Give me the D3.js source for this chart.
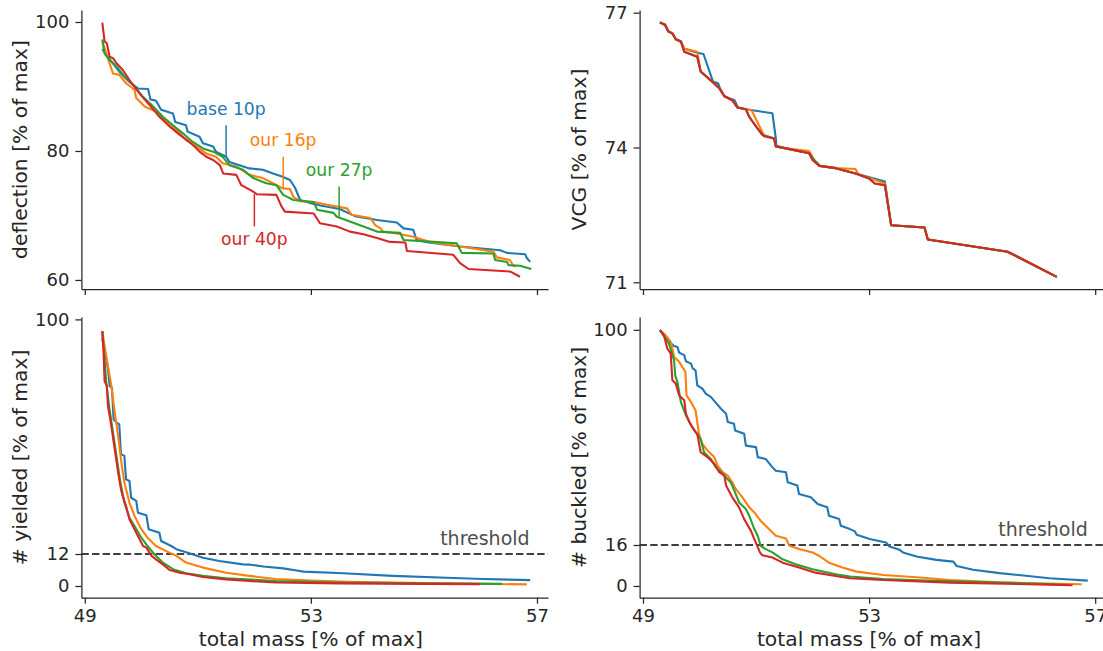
<!DOCTYPE html>
<html><head><meta charset="utf-8">
<script src="https://cdn.jsdelivr.net/npm/d3@7"></script>
<style>body{margin:0;background:#fff}svg{display:block}text{font-family:"DejaVu Sans",sans-serif}</style>
</head><body><svg id="c" width="1103" height="651"></svg>
<script>
const seriesNames = ["base 10p", "our 16p", "our 27p", "our 40p"];
const seriesColors = ["#1f77b4", "#ff7f0e", "#2ca02c", "#d62728"];
const massTicks = [49, 53, 57];
const deflectionTicks = [60, 80, 100];
const vcgTicks = [71, 74, 77];
const yieldedTicks = [0, 12, 100];
const buckledTicks = [0, 16, 100];
const yieldedThreshold = 12;
const buckledThreshold = 16;

// deflection [% of max] vs total mass [% of max]
const deflectionBase10p = [[49.31,95.8],[49.41,94.6],[49.61,92.3],[49.79,90.7],[49.94,89.7],[50.12,89.6],[50.16,88.0],[50.26,87.8],[50.35,86.4],[50.56,85.8],[50.60,84.5],[50.79,84.0],[50.82,83.0],[51.03,82.2],[51.09,81.2],[51.27,80.7],[51.32,79.9],[51.50,79.1],[51.56,78.3],[51.91,77.3],[52.15,77.1],[52.33,76.5],[52.50,76.0],[52.63,75.5],[52.72,74.3],[52.81,72.4],[53.00,71.9],[53.19,71.5],[53.51,71.0],[53.78,69.9],[54.17,69.3],[54.52,68.9],[54.64,68.0],[54.81,67.8],[54.87,66.2],[55.08,65.8],[55.64,65.2],[56.35,64.6],[56.47,64.2],[56.79,64.0],[56.82,63.4],[56.88,62.8]];
const deflectionOur16p = [[49.31,97.0],[49.40,94.6],[49.50,92.0],[49.61,91.8],[49.73,90.5],[49.88,89.5],[49.91,88.2],[50.06,86.9],[50.26,86.1],[50.41,84.8],[50.62,83.3],[50.79,81.7],[50.97,80.7],[51.15,79.6],[51.32,79.1],[51.44,78.1],[51.68,77.6],[51.91,76.3],[52.15,75.8],[52.33,75.0],[52.50,74.2],[52.63,74.1],[52.69,72.9],[52.81,72.2],[53.05,72.1],[53.34,71.6],[53.64,71.1],[53.72,70.1],[54.05,69.6],[54.14,68.5],[54.23,68.0],[54.28,67.5],[54.52,67.2],[54.81,66.7],[55.11,65.9],[55.64,65.2],[56.23,64.4],[56.29,63.5],[56.52,63.1],[56.58,62.2],[56.63,62.1]];
const deflectionOur27p = [[49.31,97.3],[49.35,95.1],[49.44,94.1],[49.56,93.1],[49.73,91.3],[49.88,90.0],[50.03,88.4],[50.21,86.9],[50.38,85.3],[50.56,84.0],[50.74,82.7],[50.91,81.4],[51.09,80.4],[51.27,79.9],[51.44,79.1],[51.56,77.8],[51.80,77.1],[51.98,75.8],[52.21,75.0],[52.39,74.7],[52.51,73.2],[52.69,72.4],[53.05,72.1],[53.11,70.9],[53.40,70.4],[53.46,69.8],[53.93,68.3],[54.17,67.5],[54.58,67.3],[54.64,66.2],[55.17,65.9],[55.58,65.7],[55.67,64.2],[56.23,64.1],[56.26,63.1],[56.47,62.8],[56.50,62.3],[56.70,62.2],[56.90,61.7]];
const deflectionOur40p = [[49.31,99.9],[49.35,97.0],[49.39,96.7],[49.44,94.6],[49.50,94.4],[49.56,93.6],[49.67,92.6],[49.79,91.0],[49.97,88.9],[50.15,87.1],[50.32,85.3],[50.50,83.8],[50.68,82.5],[50.85,81.4],[50.94,80.7],[51.03,79.9],[51.15,79.1],[51.27,78.6],[51.39,77.8],[51.45,76.5],[51.68,76.3],[51.77,74.7],[51.98,73.7],[52.04,73.3],[52.39,73.2],[52.48,71.4],[52.54,70.6],[53.05,70.3],[53.16,68.8],[53.46,68.3],[53.69,67.5],[53.93,67.1],[54.17,66.5],[54.40,65.9],[54.67,65.8],[54.70,64.5],[55.52,63.9],[55.64,62.6],[55.79,61.7],[56.53,61.3],[56.70,60.5]];

// VCG [% of max]
const vcgBase10p = [[49.30,76.78],[49.39,76.73],[49.45,76.58],[49.52,76.54],[49.58,76.41],[49.67,76.36],[49.73,76.20],[49.96,76.11],[50.07,76.08],[50.24,75.46],[50.33,75.43],[50.36,75.32],[50.44,75.14],[50.62,75.05],[50.68,74.89],[50.82,74.85],[51.29,74.76],[51.35,74.20],[51.36,74.04],[51.53,73.98],[51.94,73.87],[52.00,73.72],[52.12,73.59],[52.41,73.54],[52.76,73.42],[52.83,73.40],[53.28,73.24],[53.39,72.27],[53.98,72.22],[54.04,71.95],[55.45,71.68],[56.32,71.12]];
const vcgOur16p = [[49.30,76.78],[49.39,76.73],[49.45,76.58],[49.52,76.54],[49.58,76.41],[49.67,76.36],[49.73,76.20],[49.96,76.13],[50.02,75.69],[50.23,75.46],[50.35,75.32],[50.44,75.14],[50.58,75.05],[50.67,74.89],[50.82,74.85],[50.92,74.83],[51.05,74.50],[51.14,74.27],[51.32,74.20],[51.35,74.02],[51.53,73.98],[51.94,73.92],[52.05,73.68],[52.12,73.59],[52.41,73.54],[52.76,73.52],[52.80,73.42],[52.83,73.40],[53.28,73.20],[53.39,72.27],[53.98,72.22],[54.04,71.95],[55.45,71.68],[56.32,71.12]];
const vcgOur27p = [[49.30,76.78],[49.39,76.73],[49.45,76.58],[49.52,76.54],[49.58,76.41],[49.67,76.36],[49.73,76.13],[49.96,76.02],[50.02,75.69],[50.23,75.46],[50.35,75.32],[50.44,75.14],[50.58,75.05],[50.67,74.89],[50.82,74.85],[50.88,74.68],[51.10,74.29],[51.32,74.20],[51.35,74.02],[51.53,73.98],[51.94,73.87],[52.03,73.72],[52.14,73.59],[52.41,73.54],[52.76,73.42],[53.00,73.31],[53.10,73.20],[53.28,73.16],[53.39,72.27],[53.98,72.22],[54.04,71.95],[55.45,71.68],[56.32,71.12]];
const vcgOur40p = [[49.30,76.78],[49.39,76.73],[49.45,76.58],[49.52,76.54],[49.58,76.41],[49.67,76.36],[49.73,76.13],[49.96,76.02],[50.02,75.69],[50.23,75.46],[50.35,75.32],[50.44,75.14],[50.58,75.05],[50.67,74.89],[50.82,74.85],[50.88,74.68],[50.98,74.50],[51.14,74.25],[51.32,74.20],[51.35,74.02],[51.53,73.98],[51.94,73.87],[52.00,73.72],[52.12,73.59],[52.41,73.54],[52.76,73.42],[53.00,73.31],[53.10,73.20],[53.28,73.16],[53.39,72.27],[53.98,72.22],[54.04,71.95],[55.45,71.68],[56.32,71.12]];

// # yielded [% of max]
const yieldedBase10p = [[49.31,93.0],[49.32,91.3],[49.37,86.3],[49.41,81.3],[49.44,75.0],[49.48,74.4],[49.51,62.5],[49.56,61.3],[49.61,60.6],[49.64,49.4],[49.70,48.8],[49.73,40.0],[49.79,39.4],[49.82,33.1],[49.91,31.9],[49.94,27.5],[50.09,26.5],[50.13,21.3],[50.32,20.0],[50.35,16.9],[50.53,15.0],[50.62,13.8],[50.85,12.3],[51.09,10.6],[51.38,9.4],[51.80,8.1],[51.93,8.0],[52.16,7.3],[52.51,6.6],[52.75,5.8],[52.87,5.4],[53.57,4.8],[54.45,3.8],[55.40,3.1],[56.05,2.6],[56.88,2.2]];
const yieldedOur16p = [[49.31,95.6],[49.35,90.0],[49.41,82.5],[49.47,75.0],[49.53,65.0],[49.59,56.3],[49.64,47.5],[49.70,38.8],[49.79,31.3],[49.88,26.3],[50.00,21.3],[50.11,18.1],[50.26,15.0],[50.44,13.1],[50.62,11.3],[50.79,8.8],[51.09,6.9],[51.50,5.0],[51.91,3.8],[52.38,2.6],[53.00,2.0],[53.69,1.6],[55.00,1.1],[56.82,0.6]];
const yieldedOur27p = [[49.31,95.6],[49.34,87.5],[49.38,76.3],[49.43,67.5],[49.49,58.8],[49.56,48.8],[49.63,38.8],[49.70,31.3],[49.79,25.6],[49.88,22.5],[50.00,18.1],[50.11,15.0],[50.23,11.9],[50.38,8.8],[50.56,6.3],[50.79,4.8],[51.09,3.8],[51.50,2.9],[52.38,1.9],[53.50,1.3],[55.00,1.0],[56.38,0.8]];
const yieldedOur40p = [[49.31,95.6],[49.33,88.8],[49.35,76.9],[49.39,75.0],[49.41,67.5],[49.47,60.0],[49.53,51.3],[49.59,42.5],[49.64,36.3],[49.67,33.8],[49.73,30.0],[49.79,25.0],[49.85,22.5],[49.91,20.0],[49.97,17.5],[50.03,15.0],[50.09,14.4],[50.18,11.3],[50.26,10.0],[50.38,8.1],[50.50,6.0],[50.68,5.0],[50.85,4.4],[51.09,3.4],[51.50,2.5],[51.91,1.9],[52.38,1.3],[53.50,1.0],[55.00,0.8],[55.99,0.7]];

// # buckled [% of max]
const buckledBase10p = [[49.30,99.9],[49.43,96.0],[49.55,93.7],[49.61,93.3],[49.64,91.1],[49.73,90.1],[49.76,87.7],[49.85,86.8],[49.88,84.9],[49.93,84.2],[49.96,78.3],[50.05,77.0],[50.11,75.1],[50.20,73.8],[50.29,71.5],[50.38,69.2],[50.47,67.2],[50.50,64.0],[50.61,63.3],[50.63,60.7],[50.79,59.4],[50.82,54.8],[51.00,54.2],[51.03,50.3],[51.17,49.6],[51.29,46.3],[51.35,45.0],[51.53,44.4],[51.56,40.5],[51.73,39.2],[51.76,35.9],[51.97,34.6],[52.09,32.0],[52.26,30.7],[52.29,27.4],[52.47,26.1],[52.50,23.5],[52.66,22.2],[52.75,21.3],[52.78,20.0],[53.01,18.3],[53.30,17.0],[53.36,15.4],[53.54,14.1],[53.60,13.1],[53.84,11.5],[54.19,10.2],[54.49,9.5],[54.55,7.8],[54.84,6.3],[55.31,5.0],[55.90,3.7],[56.19,3.0],[56.48,2.6],[56.87,2.1]];
const buckledOur16p = [[49.30,99.9],[49.40,97.9],[49.49,95.3],[49.52,92.7],[49.55,89.4],[49.64,87.5],[49.75,83.6],[49.77,74.4],[49.85,71.8],[49.93,68.5],[49.96,64.0],[49.99,59.4],[50.05,55.5],[50.14,52.9],[50.26,50.3],[50.32,47.0],[50.41,44.4],[50.50,43.1],[50.58,40.5],[50.64,37.9],[50.76,34.6],[50.88,30.7],[50.97,28.7],[51.08,25.5],[51.20,22.8],[51.35,19.6],[51.53,18.5],[51.59,15.7],[51.76,14.4],[52.00,13.1],[52.12,11.7],[52.29,9.1],[52.53,7.2],[52.78,5.6],[53.25,4.3],[53.84,3.4],[54.43,2.3],[55.31,1.4],[56.76,0.65]];
const buckledOur27p = [[49.30,99.9],[49.40,96.6],[49.46,94.6],[49.55,88.1],[49.57,82.2],[49.61,79.6],[49.67,71.8],[49.76,66.6],[49.85,62.7],[49.93,60.1],[50.02,57.4],[50.08,52.2],[50.20,49.6],[50.29,46.3],[50.38,44.4],[50.55,40.5],[50.58,39.2],[50.70,32.6],[50.82,30.0],[50.88,27.4],[50.97,22.2],[51.03,19.6],[51.08,15.7],[51.17,14.4],[51.29,13.1],[51.47,10.4],[51.70,8.5],[52.00,6.5],[52.41,4.6],[52.66,3.7],[53.25,2.7],[54.13,2.0],[55.50,1.2],[56.50,0.5]];
const buckledOur40p = [[49.30,99.9],[49.37,97.9],[49.43,92.7],[49.49,90.7],[49.52,80.3],[49.58,79.0],[49.64,74.4],[49.73,72.5],[49.76,67.2],[49.82,64.0],[49.91,60.7],[49.96,59.4],[50.02,52.2],[50.14,50.3],[50.26,47.7],[50.35,44.4],[50.44,43.1],[50.47,39.2],[50.58,34.6],[50.70,30.7],[50.79,26.1],[50.91,21.5],[50.97,18.3],[51.07,13.1],[51.11,12.0],[51.29,11.1],[51.47,9.1],[51.76,7.2],[52.05,5.2],[52.41,3.9],[52.66,3.0],[53.25,2.3],[54.43,1.3],[56.60,0.3]];

// annotation call-outs on the deflection panel (mass, curve value, line end value, text baseline value)
const annotMass = [51.50, 52.51, 53.50, 52.00];
const annotCurve = [79.1, 74.1, 69.8, 73.3];
const annotLineEnd = [84.0, 79.1, 74.5, 68.3];
const annotText = [85.6, 80.7, 76.1, 65.4];

const svg = d3.select("#c");
const ink = "#262626";
const panels = [
  {data:[deflectionBase10p,deflectionOur16p,deflectionOur27p,deflectionOur40p], ticks:deflectionTicks, ydom:[58.6,101.86], box:{l:81.4,r:548,t:10,b:289}, ylabel:"deflection [% of max]", showX:false, annot:true},
  {data:[vcgBase10p,vcgOur16p,vcgOur27p,vcgOur40p], ticks:vcgTicks, ydom:[70.85,77.06], box:{l:639.6,r:1106.2,t:10,b:289}, ylabel:"VCG [% of max]", showX:false},
  {data:[yieldedBase10p,yieldedOur16p,yieldedOur27p,yieldedOur40p], ticks:yieldedTicks, ydom:[-4.39,100.9], box:{l:81.4,r:548,t:317,b:597.7}, ylabel:"# yielded [% of max]", showX:true, threshold:yieldedThreshold},
  {data:[buckledBase10p,buckledOur16p,buckledOur27p,buckledOur40p], ticks:buckledTicks, ydom:[-4.58,105.0], box:{l:639.6,r:1106.2,t:317,b:597.7}, ylabel:"# buckled [% of max]", showX:true, threshold:buckledThreshold}
];

panels.forEach(p => {
  const b = p.box;
  const x = d3.scaleLinear().domain([48.94, 57.195]).range([b.l, b.r]);
  const y = d3.scaleLinear().domain(p.ydom).range([b.b, b.t]);
  const g = svg.append("g");

  if (p.threshold !== undefined) {
    g.append("line").attr("x1", b.l).attr("x2", b.r)
      .attr("y1", y(p.threshold)).attr("y2", y(p.threshold))
      .attr("stroke", "#404040").attr("stroke-width", 2).attr("stroke-dasharray", "7.4,3.2");
    g.append("text").attr("x", x(56.87)).attr("y", y(p.threshold) - 8.6)
      .attr("text-anchor", "end").attr("font-size", 19).attr("fill", "#4d4d4d").text("threshold");
  }

  const line = d3.line().x(d => x(d[0])).y(d => y(d[1]));
  p.data.forEach((s, i) => {
    g.append("path").attr("d", line(s)).attr("fill", "none")
      .attr("stroke", seriesColors[i]).attr("stroke-width", 2.1)
      .attr("stroke-linejoin", "round").attr("stroke-linecap", "butt");
  });

  if (p.annot) {
    seriesNames.forEach((n, i) => {
      g.append("line").attr("x1", x(annotMass[i])).attr("x2", x(annotMass[i]))
        .attr("y1", y(annotCurve[i])).attr("y2", y(annotLineEnd[i]))
        .attr("stroke", seriesColors[i]).attr("stroke-width", 1.5);
      g.append("text").attr("x", x(annotMass[i])).attr("y", y(annotText[i]))
        .attr("text-anchor", "middle").attr("font-size", 17.2).attr("fill", seriesColors[i]).text(n);
    });
  }

  const xa = d3.axisBottom(x).tickValues(massTicks).tickSize(6).tickPadding(6).tickSizeOuter(0).tickFormat(d => String(d));
  if (!p.showX) xa.tickFormat(() => "");
  const gx = g.append("g").attr("transform", `translate(0,${b.b})`).call(xa);
  const ya = d3.axisLeft(y).tickValues(p.ticks).tickSize(6).tickPadding(6).tickSizeOuter(0).tickFormat(d => String(d));
  const gy = g.append("g").attr("transform", `translate(${b.l},0)`).call(ya);
  [gx, gy].forEach(a => {
    a.select(".domain").attr("stroke", ink).attr("stroke-width", 1.25);
    a.selectAll(".tick line").attr("stroke", ink).attr("stroke-width", 1.25);
    a.selectAll(".tick text").attr("fill", ink).attr("font-size", 18).attr("font-family", "DejaVu Sans");
  });

  const lx = b.l < 300 ? 27 : 586;
  g.append("text").attr("transform", `translate(${lx},${(b.t + b.b) / 2}) rotate(-90)`)
    .attr("text-anchor", "middle").attr("font-size", 20.3).attr("fill", ink).text(p.ylabel);
  if (p.showX) {
    g.append("text").attr("x", x(53)).attr("y", 646).attr("text-anchor", "middle")
      .attr("font-size", 20.3).attr("fill", ink).text("total mass [% of max]");
  }
});
</script></body></html>
